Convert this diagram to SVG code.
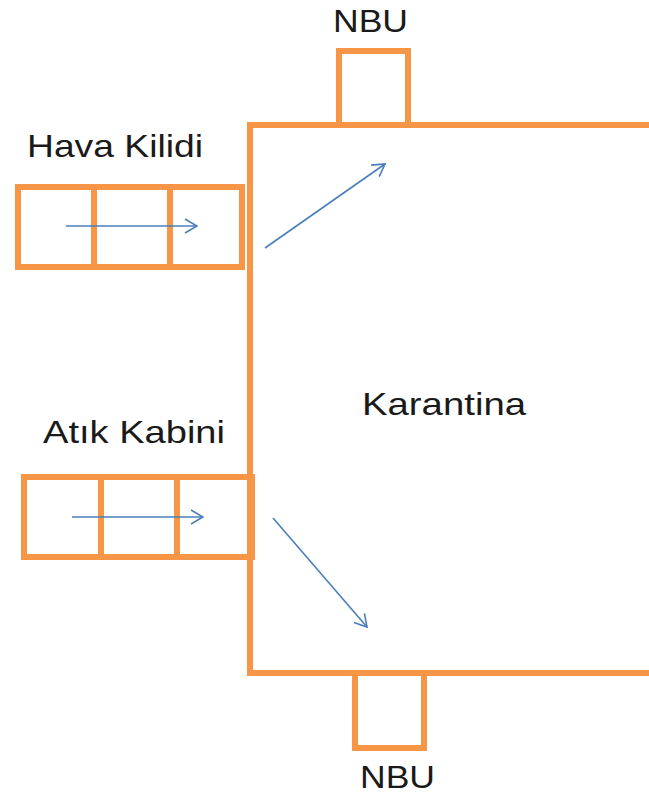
<svg xmlns="http://www.w3.org/2000/svg" width="649" height="798" viewBox="0 0 649 798">
<style>
.box{fill:none;stroke:#F79646;stroke-width:6;stroke-linejoin:miter}
.lbl{font-family:"Liberation Sans","Open Sans",sans-serif;font-size:32px;fill:#1a1a1a}
.arr{fill:none;stroke:#4A7EBB;stroke-width:1.6;marker-end:url(#ah)}
</style>
<defs>
<marker id="ah" viewBox="0 0 14 16" refX="13" refY="8" markerWidth="14" markerHeight="16" markerUnits="userSpaceOnUse" orient="auto">
<path d="M1 1 L13 8 L1 15" fill="none" stroke="#4A7EBB" stroke-width="1.6"/>
</marker>
</defs>
<rect width="649" height="798" fill="#ffffff"/>
<g id="karantina">
<rect class="box" x="250" y="125" width="420" height="548"/>
<text class="lbl" x="362" y="415" textLength="164" lengthAdjust="spacingAndGlyphs">Karantina</text>
</g>
<g id="nbu-top">
<rect class="box" x="339" y="51" width="69" height="74"/>
<text class="lbl" x="333" y="32" textLength="75" lengthAdjust="spacingAndGlyphs">NBU</text>
</g>
<g id="nbu-bottom">
<rect class="box" x="355" y="673" width="69" height="75"/>
<text class="lbl" x="360" y="788" textLength="75" lengthAdjust="spacingAndGlyphs">NBU</text>
</g>
<g id="hava-kilidi">
<rect class="box" x="18" y="187" width="224" height="80"/>
<line class="box" x1="94" y1="187" x2="94" y2="267"/>
<line class="box" x1="170" y1="187" x2="170" y2="267"/>
<text class="lbl" x="27" y="157" textLength="176" lengthAdjust="spacingAndGlyphs">Hava Kilidi</text>
</g>
<g id="atik-kabini">
<rect class="box" x="24" y="477" width="228" height="80"/>
<line class="box" x1="101" y1="477" x2="101" y2="557"/>
<line class="box" x1="177" y1="477" x2="177" y2="557"/>
<text class="lbl" x="43" y="443" textLength="182" lengthAdjust="spacingAndGlyphs">Atık Kabini</text>
</g>
<g id="connectors">
<line class="arr" x1="66" y1="226" x2="197" y2="226"/>
<line class="arr" x1="265" y1="248" x2="385" y2="164"/>
<line class="arr" x1="72" y1="517" x2="203" y2="517"/>
<line class="arr" x1="273" y1="518" x2="367" y2="627"/>
</g>
</svg>
